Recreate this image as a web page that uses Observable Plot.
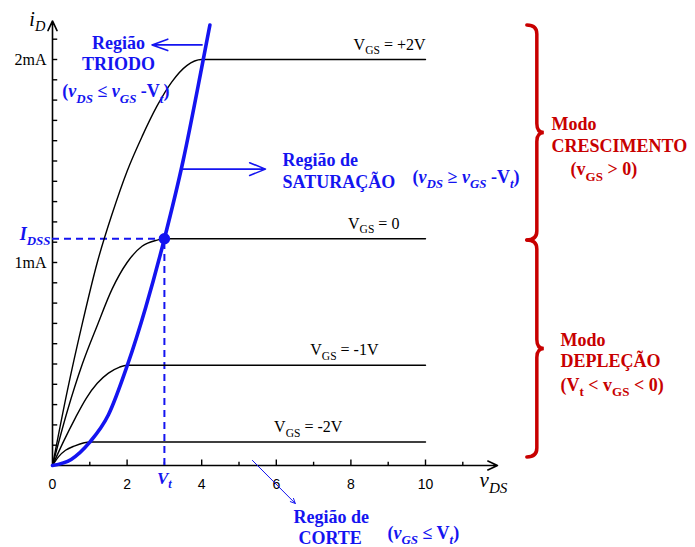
<!DOCTYPE html>
<html><head><meta charset="utf-8">
<script src="https://cdn.jsdelivr.net/npm/d3@7"></script>
<script src="https://cdn.jsdelivr.net/npm/@observablehq/plot@0.6"></script>
<style>body{margin:0;background:#fff} #chart{width:695px;height:547px}</style>
</head><body><div id="chart"></div>
<script>
// ---------- data ----------
const vdsTickValues = [0, 2, 4, 6, 8, 10];
const vdsMinorTickValues = [1, 3, 5, 7, 9, 11];
const idTickValues = [0.1,0.2,0.3,0.4,0.5,0.6,0.7,0.8,0.9,1.0,1.1,1.2,1.3,1.4,1.5,1.6,1.7,1.8,1.9,2.0,2.1];
const idLabelValues = [1, 2];
const idLabelTexts = ["1mA", "2mA"];

const vgsNames = ["V_{GS} = +2V", "V_{GS} = 0", "V_{GS} = -1V", "V_{GS} = -2V"];
const vgsLevels = [2.0, 1.117, 0.494, 0.116];

// characteristic curves: [vDS (V), iD (mA)]
const vgsPlus2 = [[0,0],[0.4,0.37],[0.8,0.7],[1.2,1.0],[1.6,1.24],[2.0,1.45],[2.4,1.62],[2.8,1.77],[3.2,1.89],[3.6,1.97],[4.0,2.0],[10,2.0]];
const vgsZero  = [[0,0],[0.4,0.27],[0.8,0.5],[1.2,0.69],[1.6,0.87],[2.0,1.0],[2.4,1.08],[2.8,1.11],[3.0,1.117],[10,1.117]];
const vgsMinus1 = [[0,0],[0.3,0.12],[0.6,0.23],[0.9,0.33],[1.2,0.405],[1.5,0.455],[1.8,0.485],[2.0,0.494],[10,0.494]];
const vgsMinus2 = [[0,0],[0.17,0.045],[0.35,0.075],[0.6,0.097],[0.85,0.112],[1.0,0.116],[10,0.116]];
const saturationBoundary = [[0,0],[0.5,0.03],[1.0,0.115],[1.5,0.25],[2.0,0.49],[2.5,0.78],[3.0,1.117],[3.5,1.5],[4.0,1.96],[4.22,2.17]];

const IDSS = 1.117;   // mA
const Vt = 3.0;       // V (position of the dashed marker)

// ---------- layout of annotations (data units) ----------
const vgsLabelEnd = [10, 9.3, 8.74, 7.77];
const blueNotes = [
  {x:1.77, y:2.054, t:"Região", a:"middle"},
  {x:1.77, y:1.946, t:"TRIODO", a:"middle"},
  {x:1.70, y:1.813, t:"(*v*_{*DS*} ≤ *v*_{*GS*} -V_{*t*})", a:"middle"},
  {x:6.166, y:1.473, t:"Região de", a:"start"},
  {x:6.166, y:1.365, t:"SATURAÇÃO", a:"start"},
  {x:9.65, y:1.394, t:"(*v*_{*DS*} ≥ *v*_{*GS*} -V_{*t*})", a:"start"},
  {x:6.46, y:-0.281, t:"Região de", a:"start"},
  {x:6.595, y:-0.389, t:"CORTE", a:"start"},
  {x:8.98, y:-0.360, t:"(*v*_{*GS*} ≤ V_{*t*})", a:"start"}
];
const redNotes = [
  {x:13.38, y:1.655, t:"Modo"},
  {x:13.38, y:1.542, t:"CRESCIMENTO"},
  {x:13.89, y:1.429, t:"(v_{GS} > 0)"},
  {x:13.62, y:0.591, t:"Modo"},
  {x:13.62, y:0.483, t:"DEPLEÇÃO"},
  {x:13.62, y:0.369, t:"(V_{t} < v_{GS} < 0)"}
];
const noteArrows = [
  {x1:4.01, y1:2.072, x2:2.67, y2:2.072, w:1.6, h:16, ang:40},
  {x1:3.47, y1:1.46, x2:5.71, y2:1.46, w:1.6, h:16, ang:44},
  {x1:5.36, y1:0.025, x2:6.51, y2:-0.187, w:1, h:8, ang:50}
];
const braces = [
  {x:12.73, top:2.167, bottom:1.108},
  {x:12.73, top:1.108, bottom:0.039}
];

const BLUE = "#1414f0", RED = "#c80000";
const SERIF = "Liberation Serif, Times New Roman, serif";

function braceMark(spec) {
  return (index, scales) => {
    const ns = "http://www.w3.org/2000/svg";
    const g = document.createElementNS(ns, "g");
    if (typeof scales.x !== "function") return g;
    for (const b of spec) {
      const x0 = scales.x(b.x), yT = scales.y(b.top), yB = scales.y(b.bottom), yM = (yT + yB) / 2;
      const xs = x0 + 10, xt = x0 + 17, r = 9;
      const p = d3.path();
      p.moveTo(x0, yT);
      p.quadraticCurveTo(xs, yT, xs, yT + r);
      p.lineTo(xs, yM - r);
      p.quadraticCurveTo(xs, yM, xt, yM);
      p.quadraticCurveTo(xs, yM, xs, yM + r);
      p.lineTo(xs, yB - r);
      p.quadraticCurveTo(xs, yB, x0, yB);
      const el = document.createElementNS(ns, "path");
      el.setAttribute("d", p.toString());
      el.setAttribute("fill", "none");
      el.setAttribute("stroke", RED);
      el.setAttribute("stroke-width", 3.5);
      el.setAttribute("stroke-linecap", "round");
      g.appendChild(el);
    }
    return g;
  };
}

const curves = [vgsPlus2, vgsZero, vgsMinus1, vgsMinus2];

const plot = Plot.plot({
  width: 695,
  height: 547,
  x: {domain: [0, 10], range: [52, 425], axis: null},
  y: {domain: [0, 2], range: [465, 59], axis: null},
  style: {background: "white", overflow: "visible", fontFamily: SERIF},
  marks: [
    // axes
    Plot.arrow([0], {x1: 0, y1: 0, x2: 11.93, y2: 0, stroke: "black", strokeWidth: 1.6, headLength: 10, headAngle: 50}),
    Plot.arrow([0], {x1: 0, y1: 0, x2: 0, y2: 2.19, stroke: "black", strokeWidth: 1.6, headLength: 10, headAngle: 50}),
    Plot.ruleX(vdsTickValues.filter(d => d > 0), {x: d => d, y1: 0, y2: 0.027, stroke: "black", strokeWidth: 1.4}),
    Plot.ruleX(vdsMinorTickValues, {x: d => d, y1: 0, y2: 0.016, stroke: "black", strokeWidth: 1.4}),
    Plot.ruleY(idTickValues, {y: d => d, x1: 0, x2: 0.14, stroke: "black", strokeWidth: 1.4}),
    Plot.text(vdsTickValues, {x: d => d, y: 0, text: d => String(d), dy: 23, lineAnchor: "bottom", fontFamily: "Liberation Sans, Arial, sans-serif", fontSize: 14, fill: "black"}),
    Plot.text(idLabelValues, {x: 0, y: d => d, text: (d, i) => idLabelTexts[i], textAnchor: "end", dx: -6, dy: 5, lineAnchor: "bottom", fontSize: 16, fill: "black"}),
    Plot.text(["i_{D}"], {x: -0.62, y: 2.167, text: d => d, textAnchor: "start", lineAnchor: "bottom", fontSize: 20, fontStyle: "italic", fill: "black"}),
    Plot.text(["v_{DS}"], {x: 11.45, y: -0.108, text: d => d, textAnchor: "start", lineAnchor: "bottom", fontSize: 21, fontStyle: "italic", fill: "black"}),

    // dashed IDSS / Vt guides
    Plot.ruleY([IDSS], {y: d => d, x1: 0, x2: Vt, stroke: BLUE, strokeWidth: 2, strokeDasharray: "7,5"}),
    Plot.ruleX([Vt], {x: d => d, y1: 0, y2: IDSS, stroke: BLUE, strokeWidth: 2, strokeDasharray: "7,5"}),

    // characteristic curves
    ...curves.map(c => Plot.line(c, {x: d => d[0], y: d => d[1], curve: "monotone-x", stroke: "black", strokeWidth: 1.4})),
    Plot.text(vgsNames, {x: (d, i) => vgsLabelEnd[i], y: (d, i) => vgsLevels[i], text: d => d, textAnchor: "end", lineAnchor: "bottom", dy: -10, fontSize: 16, fill: "black"}),

    // saturation boundary
    Plot.line(saturationBoundary, {x: d => d[0], y: d => d[1], curve: "monotone-x", stroke: BLUE, strokeWidth: 3.6}),
    Plot.dot([[Vt, IDSS]], {x: d => d[0], y: d => d[1], r: 5, fill: BLUE, stroke: BLUE}),
    Plot.text(["I_{DSS}"], {x: 0, y: IDSS, text: d => d, textAnchor: "end", lineAnchor: "bottom", dx: -2, dy: 1, fontSize: 18, fontWeight: "bold", fontStyle: "italic", fill: BLUE}),
    Plot.text(["V_{t}"], {x: Vt, y: 0, text: d => d, textAnchor: "middle", lineAnchor: "bottom", dy: 18, fontSize: 17, fontWeight: "bold", fontStyle: "italic", fill: BLUE}),

    // annotations
    ...noteArrows.map(a => Plot.arrow([a], {x1: "x1", y1: "y1", x2: "x2", y2: "y2", stroke: BLUE, strokeWidth: a.w, headLength: a.h, headAngle: a.ang})),
    Plot.text(blueNotes.filter(d => d.a === "middle"), {x: "x", y: "y", text: "t", textAnchor: "middle", lineAnchor: "bottom", fontSize: 18, fontWeight: "bold", fill: BLUE}),
    Plot.text(blueNotes.filter(d => d.a === "start"), {x: "x", y: "y", text: "t", textAnchor: "start", lineAnchor: "bottom", fontSize: 18, fontWeight: "bold", fill: BLUE}),
    Plot.text(redNotes, {x: "x", y: "y", text: "t", textAnchor: "start", lineAnchor: "bottom", fontSize: 18, fontWeight: "bold", fill: RED}),
    braceMark(braces)
  ]
});

// rich text: *italic* and _{subscript}
function richify(svg) {
  svg.querySelectorAll("text").forEach(el => {
    const s = el.textContent;
    if (!s || !(s.includes("_{") || s.includes("*"))) return;
    const tokens = [];
    let italic = false, sub = false, buf = "";
    const flush = () => { if (buf) tokens.push({t: buf, italic, sub}); buf = ""; };
    for (let i = 0; i < s.length; i++) {
      const c = s[i];
      if (c === "*") { flush(); italic = !italic; }
      else if (c === "_" && s[i + 1] === "{") { flush(); sub = true; i++; }
      else if (c === "}" && sub) { flush(); sub = false; }
      else buf += c;
    }
    flush();
    el.textContent = "";
    el.style.whiteSpace = "pre";
    let prevSub = false;
    for (const tk of tokens) {
      const ts = document.createElementNS("http://www.w3.org/2000/svg", "tspan");
      ts.textContent = tk.t;
      if (tk.italic) ts.setAttribute("font-style", "italic");
      if (tk.sub) {
        ts.setAttribute("font-size", "72%");
        if (!prevSub) ts.setAttribute("dy", "0.4em");
      } else if (prevSub) {
        ts.setAttribute("dy", "-0.288em");
      }
      prevSub = tk.sub;
      el.appendChild(ts);
    }
  });
}
richify(plot);
document.getElementById("chart").appendChild(plot);
</script>
</body></html>
